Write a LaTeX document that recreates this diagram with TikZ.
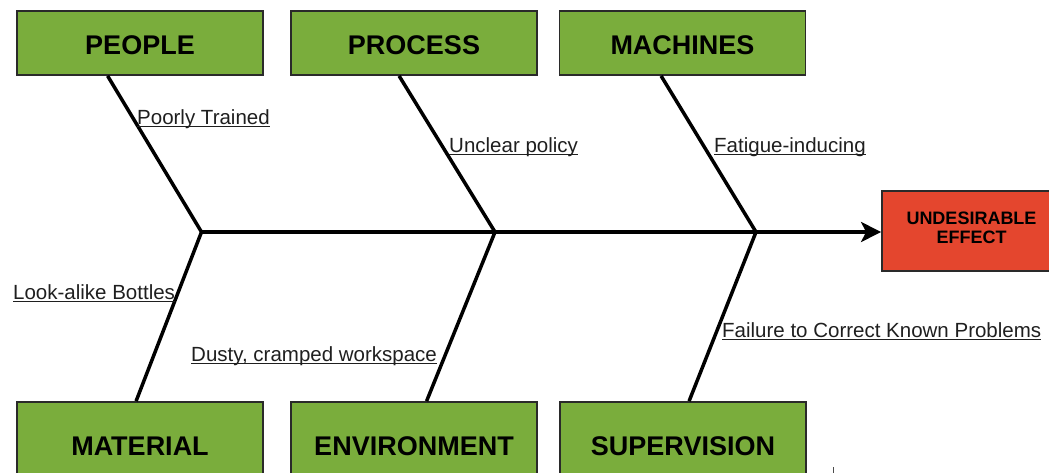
\documentclass[tikz,border=0pt]{standalone}
\usepackage{fontspec}
\setmainfont{Liberation Sans}
\usetikzlibrary{arrows.meta,calc}
\definecolor{boxgreen}{HTML}{7AAD3C}
\definecolor{effectred}{HTML}{E4462E}
\definecolor{boxline}{HTML}{2A2A2A}
\newcommand{\ulabeltext}[1]{\setbox0\hbox{#1}\rlap{\rule[-2.4bp]{\wd0}{1.1bp}}\box0}
\newcommand{\shiftedtext}[2]{\raisebox{#1}[\height][\depth]{#2}}
\begin{document}
\begin{tikzpicture}[x=1bp,y=-1bp,
  cause/.style={draw=boxline, line width=1.8bp, fill=boxgreen, minimum width=246bp, inner sep=0pt,
    font=\fontsize{27bp}{30bp}\selectfont\bfseries, text=black},
  topcause/.style={cause, minimum height=64bp},
  botcause/.style={cause, minimum height=88bp},
  effectbox/.style={draw=boxline, line width=1.8bp, fill=effectred, minimum width=179bp, minimum height=80bp,
    inner sep=0pt, font=\fontsize{18bp}{19bp}\selectfont\bfseries, text=black},
  bone/.style={line width=3.5bp, black, line join=miter},
  subcause/.style={anchor=base west, inner sep=0pt, font=\fontsize{20.5bp}{24bp}\selectfont, text=black!88}
]
\useasboundingbox (0,0) rectangle (1049,473);
\clip (0,0) rectangle (1049,473);

% cause boxes
\node[topcause] (people)    at (140,43)   {\shiftedtext{-2.5bp}{PEOPLE}};
\node[topcause] (process)   at (414,43)   {\shiftedtext{-2.5bp}{PROCESS}};
\node[topcause] (machines)  at (682.5,43) {\shiftedtext{-2.5bp}{MACHINES}};
\node[botcause] (material)  at (140,446)  {MATERIAL};
\node[botcause] (environment) at (414,446) {ENVIRONMENT};
\node[botcause] (supervision) at (683,446) {SUPERVISION};

% effect
\node[effectbox] (effect) at (971.5,231)
  {\shiftedtext{1bp}{\begin{tabular}{@{}c@{}}UNDESIRABLE\\EFFECT\end{tabular}}};

% junctions on the spine
\coordinate (j1) at (201.5,232);
\coordinate (j2) at (495,232);
\coordinate (j3) at (756,232);

% bones
\draw[bone] ($(people.south west)+(91.5,0)$) -- (j1) -- ($(material.north west)+(120,0)$);
\draw[bone] ($(process.south west)+(109,0)$) -- (j2) -- ($(environment.north west)+(136.5,0)$);
\draw[bone] ($(machines.south west)+(102.5,0)$) -- (j3) -- ($(supervision.north west)+(130,0)$);

% spine
\draw[bone, -{Stealth[length=20bp,width=20bp,inset=5bp]}] (j1) -- (j1 -| effect.west);

% sub-causes
\node[subcause] (poorly)  at (137,125) {\ulabeltext{Poorly Trained}};
\node[subcause] (unclear) at (449,153) {\ulabeltext{Unclear policy}};
\node[subcause] (fatigue) at (714,153) {\ulabeltext{Fatigue-inducing}};
\node[subcause] (lookalike) at (13,300) {\ulabeltext{Look-alike Bottles}};
\node[subcause] (dusty)   at (191,362) {\ulabeltext{Dusty, cramped workspace}};
\node[subcause] (failure) at (722,338) {\ulabeltext{Failure to Correct Known Problems}};

% small tick at the bottom
\coordinate (tickA) at (833,467);
\coordinate (tickB) at (833,474);
\draw[line width=1bp, black!70] (tickA) -- (tickB);
\end{tikzpicture}
\end{document}
